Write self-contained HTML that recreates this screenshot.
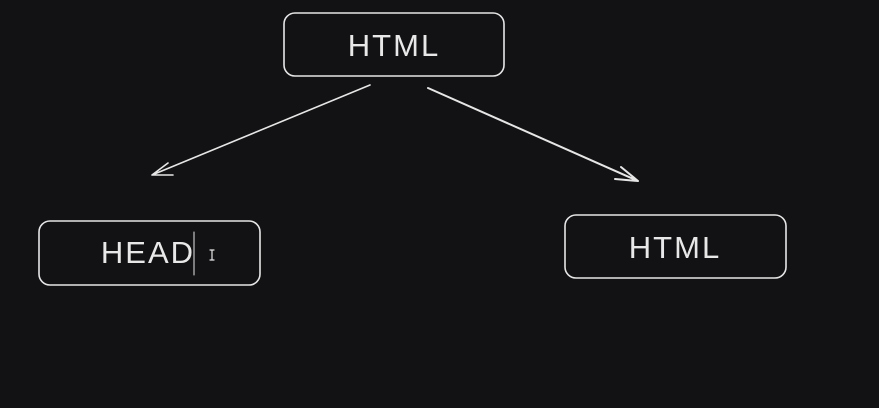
<!DOCTYPE html>
<html><head><meta charset="utf-8"><style>
html,body{margin:0;padding:0;background:#121214;width:879px;height:408px;overflow:hidden}
text{font-family:"Liberation Sans",sans-serif;fill:#e8e8e8;font-size:31px;letter-spacing:2px}
</style></head><body>
<svg width="879" height="408" viewBox="0 0 879 408" xmlns="http://www.w3.org/2000/svg">
<rect width="879" height="408" fill="#121214"/>
<g fill="none" stroke="#e6e6e6" stroke-width="1.6" stroke-linecap="round">
<rect x="284" y="13" width="220" height="63" rx="11"/>
<rect x="39" y="221" width="221" height="64" rx="11"/>
<rect x="565" y="215" width="221" height="63" rx="11"/>
<path d="M370 85 L152 175 M152 175 L168 163 M152 175 L173 175"/>
<path d="M428 88 L638 181 M638 181 L621 167 M638 181 L615 179" stroke-width="2"/>
<path d="M194 232 L194 275" stroke-width="1"/>
<path d="M210 250 L214 250 M212 250 L212 260 M210 260 L214 260" stroke-width="1.2"/>
</g>
<text x="394" y="56" text-anchor="middle">HTML</text>
<text x="148" y="263" text-anchor="middle">HEAD</text>
<text x="675" y="258" text-anchor="middle">HTML</text>
</svg>
</body></html>
